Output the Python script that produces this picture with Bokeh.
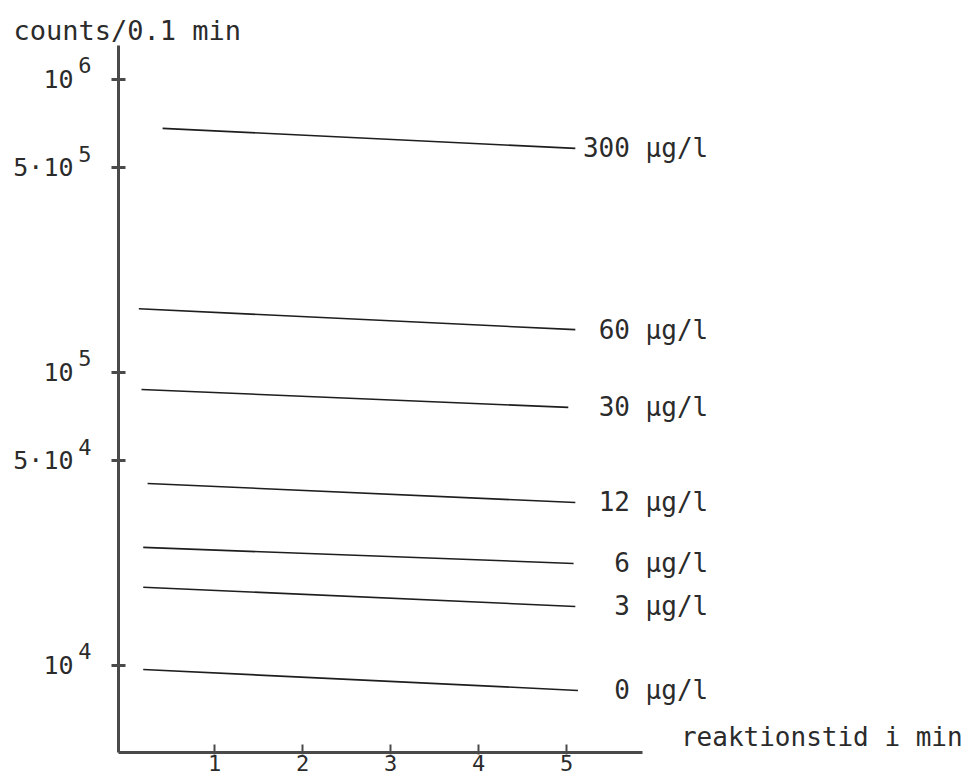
from bokeh.plotting import figure
from bokeh.models import (ColumnDataSource, FixedTicker, LabelSet, Label, Range1d, LogAxis,
                          LogScale)
from bokeh.core.properties import value
from bokeh.embed import file_html
from bokeh.resources import INLINE

# ---- data ----
concentration_labels = ["300 µg/l", "60 µg/l", "30 µg/l", "12 µg/l", "6 µg/l", "3 µg/l", "0 µg/l"]
t_start = [0.41, 0.14, 0.17, 0.24, 0.19, 0.19, 0.19]          # reaktionstid (min) at line start
t_end = [5.10, 5.10, 5.02, 5.10, 5.08, 5.10, 5.13]            # reaktionstid (min) at line end
counts_start = [6.81e5, 1.65e5, 8.75e4, 4.18e4, 2.53e4, 1.85e4, 9.69e3]
counts_end = [5.82e5, 1.40e5, 7.60e4, 3.60e4, 2.23e4, 1.59e4, 8.22e3]

x_ticks = [1, 2, 3, 4, 5]
y_tick_values = [1e4, 5e4, 1e5, 5e5, 1e6]
y_tick_mantissa = ["10", "5·10", "10", "5·10", "10"]
y_tick_exponent = ["4", "4", "5", "5", "6"]

y_title = "counts/0.1 min"
x_title = "reaktionstid i min"

FONT = "DejaVu Sans Mono"
INK = "#2b2b2b"
AXIS = "#4a4a4a"

X_MIN, X_AXIS_END, X_MAX = -0.0909, 5.86, 9.636
Y_MIN, Y_MAX = 5047, 1.306e6
PX_PER_DECADE = 293.0
SUPERSCRIPT_RAISE_PX = 14.0
raise_factor = 10 ** (-SUPERSCRIPT_RAISE_PX / PX_PER_DECADE)

p = figure(width=974, height=780, title=y_title,
           x_range=Range1d(X_MIN, X_MAX), y_range=Range1d(Y_MIN, Y_MAX),
           y_axis_type="log", output_backend="svg", toolbar_location=None,
           min_border_left=118, min_border_right=0, min_border_top=45,
           min_border_bottom=28)
p.extra_y_ranges = {"sup": Range1d(Y_MIN * raise_factor, Y_MAX * raise_factor)}
p.extra_y_scales = {"sup": LogScale()}
p.outline_line_color = None
p.grid.visible = False
p.background_fill_color = "white"
p.border_fill_color = "white"

p.title.align = "left"
p.title.offset = -105
p.title.standoff = 0
p.title.text_font = FONT
p.title.text_font_size = "27px"
p.title.text_font_style = "normal"
p.title.text_color = INK

src = ColumnDataSource(dict(t0=t_start, t1=t_end, c0=counts_start, c1=counts_end,
                            label=concentration_labels))
p.segment(x0="t0", y0="c0", x1="t1", y1="c1", source=src, line_color="#1e1e1e", line_width=1.6)

labels = LabelSet(x=6.61, y="c1", text="label", source=src, text_align="right",
                  text_baseline="middle", text_font=value(FONT), text_font_size=value("26px"),
                  text_color=INK)
p.add_layout(labels)

# main y axis: line and cross ticks only
yax = p.yaxis[0]
yax.ticker = FixedTicker(ticks=y_tick_values)
yax.major_label_overrides = {v: "" for v in y_tick_values}
yax.minor_tick_line_color = None
yax.major_tick_in = 7
yax.major_tick_out = 7
yax.major_tick_line_width = 3
yax.major_tick_line_color = AXIS
yax.axis_line_width = 3
yax.axis_line_color = AXIS
yax.major_label_standoff = 0
yax.major_label_text_font_size = "1px"

# exponents (on a range shifted so that they sit raised)
yexp = LogAxis(y_range_name="sup", ticker=FixedTicker(ticks=y_tick_values),
               major_label_overrides={v: s for v, s in zip(y_tick_values, y_tick_exponent)})
yexp.axis_line_color = None
yexp.major_tick_line_color = None
yexp.minor_tick_line_color = None
yexp.major_tick_in = 0
yexp.major_tick_out = 0
yexp.major_label_standoff = 20
yexp.major_label_text_font = FONT
yexp.major_label_text_font_size = "22px"
yexp.major_label_text_color = INK
p.add_layout(yexp, "left")

# mantissas "10" / "5·10"
yman = LogAxis(ticker=FixedTicker(ticks=y_tick_values),
               major_label_overrides={v: s for v, s in zip(y_tick_values, y_tick_mantissa)})
yman.axis_line_color = None
yman.major_tick_line_color = None
yman.minor_tick_line_color = None
yman.major_tick_in = 0
yman.major_tick_out = 0
yman.major_label_standoff = 2
yman.major_label_text_font = FONT
yman.major_label_text_font_size = "25px"
yman.major_label_text_color = INK
p.add_layout(yman, "left")

xax = p.xaxis[0]
xax.bounds = (X_MIN, X_AXIS_END)
xax.ticker = FixedTicker(ticks=x_ticks)
xax.minor_tick_line_color = None
xax.major_tick_in = 8
xax.major_tick_out = 2
xax.major_tick_line_width = 2
xax.major_tick_line_color = AXIS
xax.axis_line_width = 3
xax.axis_line_color = AXIS
xax.major_label_standoff = 0
xax.major_label_text_font = FONT
xax.major_label_text_font_size = "22px"
xax.major_label_text_color = INK

p.add_layout(Label(x=6.30, y=5.68e3, text=x_title, text_align="left", text_baseline="middle",
                   text_font=FONT, text_font_size="26px", text_color=INK))

open("out.html", "w").write(file_html(p, INLINE))
